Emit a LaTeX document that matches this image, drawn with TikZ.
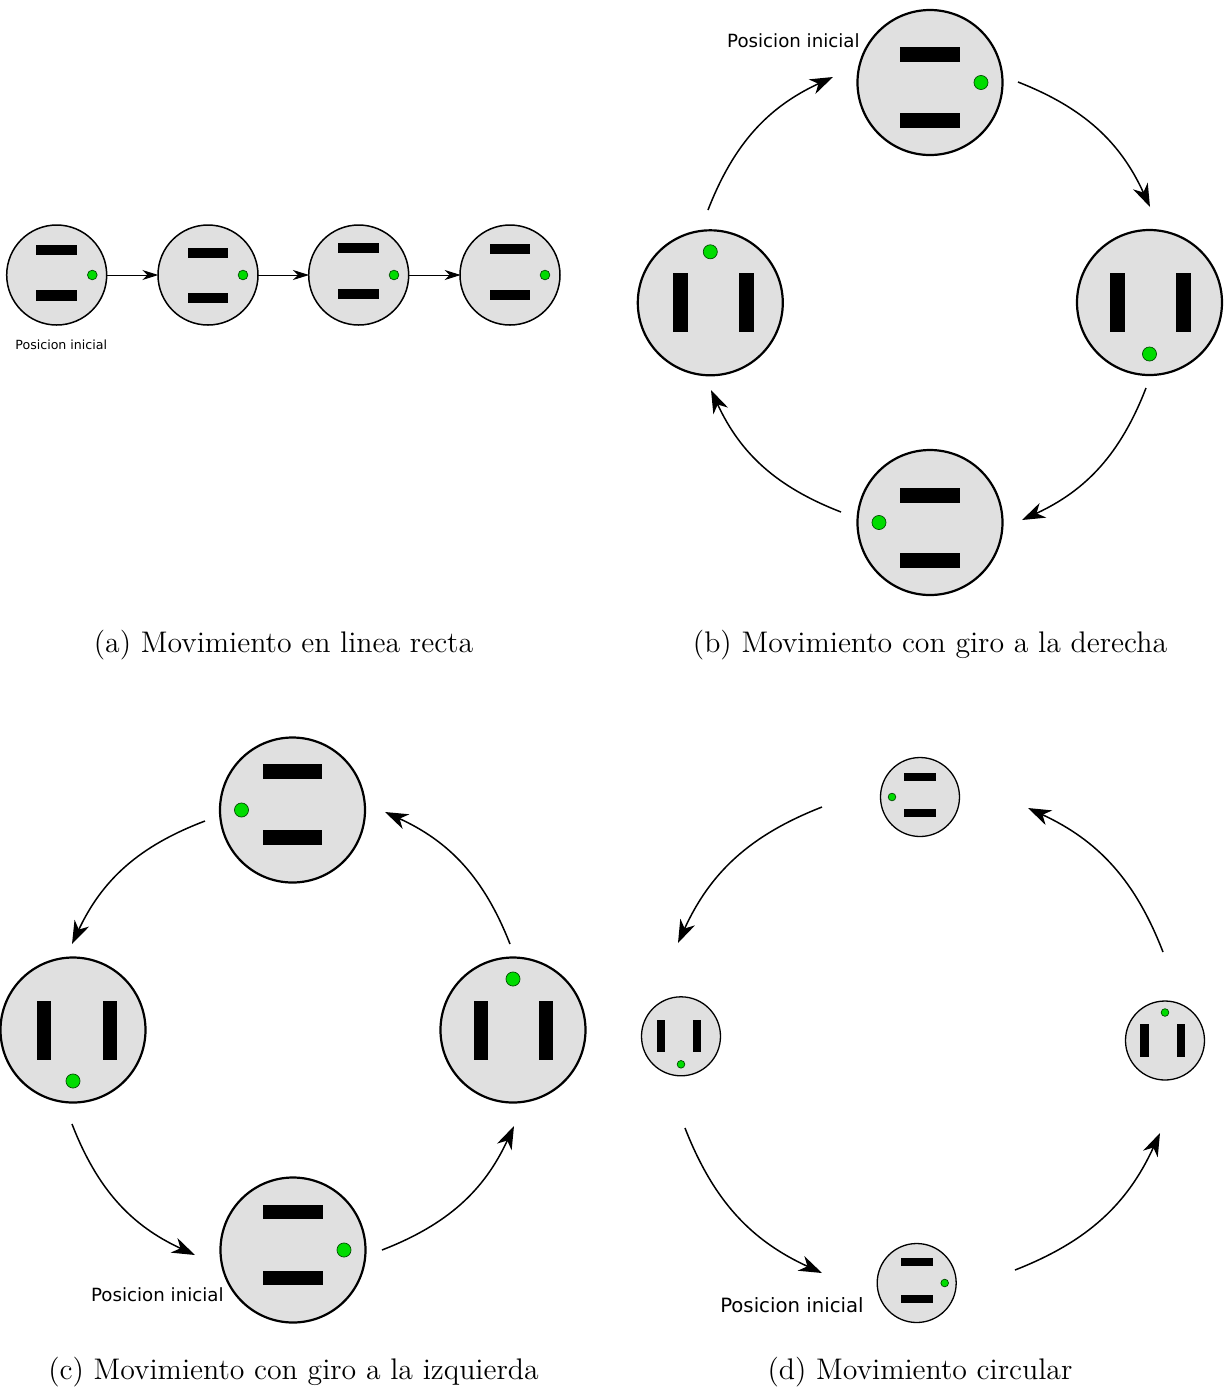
\documentclass[tikz,border=0pt]{standalone}
\usepackage{fontspec}
\newfontfamily\dejavu{DejaVu Sans}
\usetikzlibrary{arrows.meta}
\definecolor{robgray}{RGB}{224,224,224}
\definecolor{robgreen}{RGB}{0,220,0}
\tikzset{
  bigarrow/.style={line width=0.75pt, -{Stealth[length=11.5pt,width=8pt,inset=3.5pt]}},
  smallarrow/.style={line width=0.5pt, -{Stealth[length=8pt,width=5pt,inset=2.5pt]}},
  dotstyle/.style={fill=robgreen, draw=black!70!green, line width=0.35pt},
  body/.style={fill=robgray, draw=black},
  poslabel/.style={font=\dejavu, inner sep=0pt},
  caption/.style={font=\fontsize{14.9}{17}\selectfont, inner sep=0pt},
}
% horizontal bars: cx, cy, r, bar1 y-offset, bar2 y-offset, dot x-offset, line width
\newcommand\robH[7]{%
  \draw[body, line width=#7] (#1,-#2) circle[radius=#3];
  \fill ({#1-0.407*#3},{-#2-(#4)-0.103*#3}) rectangle ({#1+0.407*#3},{-#2-(#4)+0.103*#3});
  \fill ({#1-0.407*#3},{-#2-(#5)-0.103*#3}) rectangle ({#1+0.407*#3},{-#2-(#5)+0.103*#3});
  \draw[dotstyle] ({#1+(#6)},-#2) circle[radius={0.097*#3}];
}
% vertical bars: cx, cy, r, bar1 x-offset, bar2 x-offset, dot y-offset (down), line width
\newcommand\robV[7]{%
  \draw[body, line width=#7] (#1,-#2) circle[radius=#3];
  \fill ({#1+(#4)-0.103*#3},{-#2-0.407*#3}) rectangle ({#1+(#4)+0.103*#3},{-#2+0.407*#3});
  \fill ({#1+(#5)-0.103*#3},{-#2-0.407*#3}) rectangle ({#1+(#5)+0.103*#3},{-#2+0.407*#3});
  \draw[dotstyle] (#1,{-#2-(#6)}) circle[radius={0.097*#3}];
}
\begin{document}
\begin{tikzpicture}[x=0.5pt,y=0.5pt]
\useasboundingbox (0,0) rectangle (1225,-1389);

% ---------- (a) ----------
\robH{56.7}{275}{50}{-25}{20.5}{35.6}{0.75pt}
\robH{208}{275}{50}{-22.3}{23.3}{35}{0.75pt}
\robH{358.7}{275}{50}{-26.7}{19}{35.3}{0.75pt}
\robH{510}{275}{50}{-25.7}{20}{35}{0.75pt}
\coordinate (a1s) at (107,-275); \coordinate (a1e) at (158.3,-275);
\coordinate (a2s) at (258,-275); \coordinate (a2e) at (309,-275);
\coordinate (a3s) at (408.5,-275); \coordinate (a3e) at (460.7,-275);
\draw[smallarrow] (a1s) -- (a1e);
\draw[smallarrow] (a2s) -- (a2e);
\draw[smallarrow] (a3s) -- (a3e);
\node[poslabel, font=\dejavu\fontsize{6.3}{7}\selectfont, anchor=base west] (posa) at (15,-349) {Posicion inicial};
\node[caption, anchor=base] (capa) at (283.5,-652) {(a) Movimiento en linea recta};

% ---------- (b) ----------
\robH{930}{82.5}{72.5}{-28}{38}{51}{1.1pt}
\robV{1149.5}{302.5}{72.5}{-32}{33.7}{51.5}{1.1pt}
\robH{930}{522.5}{72.5}{-27.2}{38.3}{-51}{1.1pt}
\robV{710.3}{302.8}{72.5}{-29.5}{36.5}{-51}{1.1pt}
\coordinate (b1s) at (708,-210); \coordinate (b1e) at (833,-77);
\coordinate (b2s) at (1018,-82); \coordinate (b2e) at (1150,-207);
\coordinate (b3s) at (1146,-388); \coordinate (b3e) at (1022,-520);
\coordinate (b4s) at (841,-512); \coordinate (b4e) at (711,-390);
\draw[bigarrow] (b1s) to[bend left=22] (b1e);
\draw[bigarrow] (b2s) to[bend left=22] (b2e);
\draw[bigarrow] (b3s) to[bend left=22] (b3e);
\draw[bigarrow] (b4s) to[bend left=22] (b4e);
\node[poslabel, font=\dejavu\fontsize{9.1}{11}\selectfont, anchor=base east] (posb) at (860,-47) {Posicion inicial};
\node[caption, anchor=base] (capb) at (930,-652) {(b) Movimiento con giro a la derecha};

% ---------- (c) ----------
\robH{292.5}{810}{72.5}{-38.5}{27.3}{-51}{1.1pt}
\robV{73}{1030}{72.5}{-29}{37}{51}{1.1pt}
\robV{513}{1030}{72.5}{-32}{33}{-51}{1.1pt}
\robH{293}{1250}{72.5}{-38}{28}{51}{1.1pt}
\coordinate (c1s) at (205,-821); \coordinate (c1e) at (72,-944);
\coordinate (c2s) at (72,-1124); \coordinate (c2e) at (195,-1255);
\coordinate (c3s) at (382,-1250); \coordinate (c3e) at (514,-1126);
\coordinate (c4s) at (510,-944); \coordinate (c4e) at (385,-812);
\draw[bigarrow] (c1s) to[bend right=22] (c1e);
\draw[bigarrow] (c2s) to[bend right=22] (c2e);
\draw[bigarrow] (c3s) to[bend right=22] (c3e);
\draw[bigarrow] (c4s) to[bend right=22] (c4e);
\node[poslabel, font=\dejavu\fontsize{9.1}{11}\selectfont, anchor=base east] (posc) at (224,-1301) {Posicion inicial};
\node[caption, anchor=base] (capc) at (293.5,-1379) {(c) Movimiento con giro a la izquierda};

% ---------- (d) ----------
\robH{920}{797}{39.5}{-20}{16}{-28}{0.65pt}
\robV{681}{1036.3}{39.5}{-20}{16}{28}{0.65pt}
\robV{1165}{1040.5}{39.5}{-20.5}{16}{-28}{0.65pt}
\robH{916.7}{1283}{39.5}{-21}{16}{28}{0.65pt}
\coordinate (d1s) at (822,-807); \coordinate (d1e) at (678,-943);
\coordinate (d2s) at (685,-1128); \coordinate (d2e) at (822,-1273);
\coordinate (d3s) at (1015,-1270); \coordinate (d3e) at (1160,-1133);
\coordinate (d4s) at (1163,-952); \coordinate (d4e) at (1028,-808);
\draw[bigarrow] (d1s) to[bend right=22] (d1e);
\draw[bigarrow] (d2s) to[bend right=22] (d2e);
\draw[bigarrow] (d3s) to[bend right=22] (d3e);
\draw[bigarrow] (d4s) to[bend right=22] (d4e);
\node[poslabel, font=\dejavu\fontsize{9.85}{12}\selectfont, anchor=base east] (posd) at (864,-1312) {Posicion inicial};
\node[caption, anchor=base] (capd) at (920,-1379) {(d) Movimiento circular};
\end{tikzpicture}
\end{document}
